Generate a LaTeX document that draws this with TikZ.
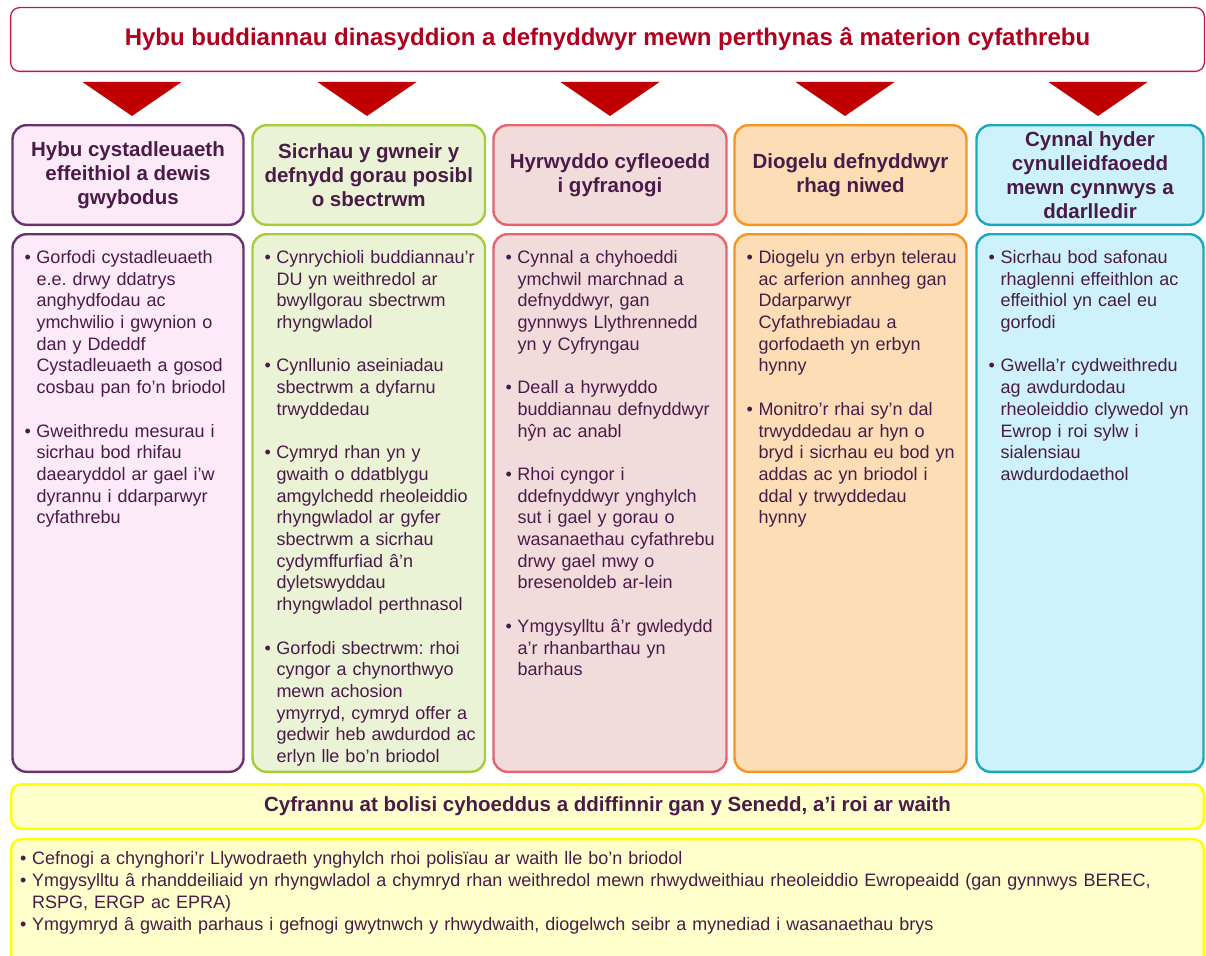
\documentclass[tikz,border=0pt]{standalone}
\usepackage{fontspec}
\setmainfont{Liberation Sans}
\usetikzlibrary{positioning}

\definecolor{bannerred}{HTML}{C8173F}
\definecolor{titlered}{HTML}{B0001E}
\definecolor{arrowred}{HTML}{C00000}
\definecolor{plum}{HTML}{4A1A48}
\definecolor{purpleline}{HTML}{66336A}
\definecolor{purplefill}{HTML}{FDEAF8}
\definecolor{greenline}{HTML}{A5CD39}
\definecolor{greenfill}{HTML}{EBF3D6}
\definecolor{roseline}{HTML}{E8636F}
\definecolor{rosefill}{HTML}{F2DCDB}
\definecolor{orangeline}{HTML}{F7941D}
\definecolor{orangefill}{HTML}{FDDDB5}
\definecolor{tealline}{HTML}{1BA8BD}
\definecolor{tealfill}{HTML}{CDF2FC}
\definecolor{yellowline}{HTML}{FFFF00}
\definecolor{yellowfill}{HTML}{FFFFCC}

\newcommand{\blt}{\par\leftskip=12pt\noindent\llap{\makebox[12pt][l]{\textbullet}}}
\newcommand{\itemgap}{\par\vspace{21.7pt}}

\tikzset{
  banner/.style={draw=bannerred, line width=1.3pt, rounded corners=9pt, fill=white,
    inner sep=0pt, text=titlered, font=\bfseries\fontsize{24}{28}\selectfont},
  headbox/.style={line width=2.4pt, rounded corners=14pt, inner sep=0pt,
    minimum height=99.6pt, align=center, text=plum,
    font=\bfseries\fontsize{20.5}{24}\selectfont},
  bodybox/.style={line width=2.4pt, rounded corners=14pt, inner sep=0pt,
    minimum height=537.6pt},
  bodytext/.style={anchor=north west, inner sep=0pt, text width=226pt, align=left,
    text=plum, font=\fontsize{18}{21.7}\selectfont},
  policy/.style={draw=yellowline, fill=yellowfill, line width=2.4pt,
    rounded corners=10pt, inner sep=0pt, minimum width=1192.6pt},
  downtri/.style={fill=arrowred}
}

\begin{document}
\frenchspacing
\begin{tikzpicture}[x=1pt,y=-1pt]
  \useasboundingbox (0,0) rectangle (1206,955);

  \node[banner, minimum width=1193.8pt, minimum height=63.8pt] (banner) at (607.5,39.5)
    {Hybu buddiannau dinasyddion a defnyddwyr mewn perthynas â materion cyfathrebu};

  % column headings
  \node[headbox, draw=purpleline, fill=purplefill, minimum width=231pt] (head1) at (128,175)
    {Hybu cystadleuaeth\\effeithiol a dewis\\gwybodus};
  \node[headbox, draw=greenline, fill=greenfill, minimum width=232.5pt] (head2) at (368.75,175)
    {Sicrhau y gwneir y\\defnydd gorau posibl\\o sbectrwm};
  \node[headbox, draw=roseline, fill=rosefill, minimum width=233pt] (head3) at (610,175)
    {Hyrwyddo cyfleoedd\\i gyfranogi};
  \node[headbox, draw=orangeline, fill=orangefill, minimum width=232pt] (head4) at (850.5,175)
    {Diogelu defnyddwyr\\rhag niwed};
  \node[headbox, draw=tealline, fill=tealfill, minimum width=227pt] (head5) at (1090,175)
    {Cynnal hyder\\cynulleidfaoedd\\mewn cynnwys a\\ddarlledir};

  % arrows from the banner
  \fill[downtri] ([xshift=4pt,yshift=8pt]head1.north) -- ++(-49.5,-34) -- ++(99,0) -- cycle;
  \fill[downtri] ([xshift=-1.75pt,yshift=8pt]head2.north) -- ++(-49.5,-34) -- ++(99,0) -- cycle;
  \fill[downtri] ([yshift=8pt]head3.north) -- ++(-49.5,-34) -- ++(99,0) -- cycle;
  \fill[downtri] ([xshift=-5.5pt,yshift=8pt]head4.north) -- ++(-49.5,-34) -- ++(99,0) -- cycle;
  \fill[downtri] ([xshift=8pt,yshift=8pt]head5.north) -- ++(-49.5,-34) -- ++(99,0) -- cycle;

  % column bodies
  \node[bodybox, draw=purpleline, fill=purplefill, minimum width=231pt] (body1) at (128,503) {};
  \node[bodybox, draw=greenline, fill=greenfill, minimum width=232.5pt] (body2) at (368.75,503) {};
  \node[bodybox, draw=roseline, fill=rosefill, minimum width=233pt] (body3) at (610,503) {};
  \node[bodybox, draw=orangeline, fill=orangefill, minimum width=232pt] (body4) at (850.5,503) {};
  \node[bodybox, draw=tealline, fill=tealfill, minimum width=227pt] (body5) at (1090,503) {};

  \node[bodytext] (list1) at ([xshift=13pt,yshift=-8.5pt]body1.north west) {%
    \blt Gorfodi cystadleuaeth\newline e.e. drwy ddatrys\newline anghydfodau ac\newline
      ymchwilio i gwynion o\newline dan y Ddeddf\newline Cystadleuaeth a gosod\newline
      cosbau pan fo'n briodol
    \itemgap
    \blt Gweithredu mesurau i\newline sicrhau bod rhifau\newline daearyddol ar gael i'w\newline
      dyrannu i ddarparwyr\newline cyfathrebu\par};
  \node[bodytext] (list2) at ([xshift=13pt,yshift=-8.5pt]body2.north west) {%
    \blt Cynrychioli buddiannau'r\newline DU yn weithredol ar\newline bwyllgorau sbectrwm\newline
      rhyngwladol
    \itemgap
    \blt Cynllunio aseiniadau\newline sbectrwm a dyfarnu\newline trwyddedau
    \itemgap
    \blt Cymryd rhan yn y\newline gwaith o ddatblygu\newline amgylchedd rheoleiddio\newline
      rhyngwladol ar gyfer\newline sbectrwm a sicrhau\newline cydymffurfiad â'n\newline
      dyletswyddau\newline rhyngwladol perthnasol
    \itemgap
    \blt Gorfodi sbectrwm: rhoi\newline cyngor a chynorthwyo\newline mewn achosion\newline
      ymyrryd, cymryd offer a\newline gedwir heb awdurdod ac\newline erlyn lle bo'n briodol\par};
  \node[bodytext] (list3) at ([xshift=13pt,yshift=-8.5pt]body3.north west) {%
    \blt Cynnal a chyhoeddi\newline ymchwil marchnad a\newline defnyddwyr, gan\newline
      gynnwys Llythrennedd\newline yn y Cyfryngau
    \itemgap
    \blt Deall a hyrwyddo\newline buddiannau defnyddwyr\newline hŷn ac anabl
    \itemgap
    \blt Rhoi cyngor i\newline ddefnyddwyr ynghylch\newline sut i gael y gorau o\newline
      wasanaethau cyfathrebu\newline drwy gael mwy o\newline bresenoldeb ar-lein
    \itemgap
    \blt Ymgysylltu â'r gwledydd\newline a'r rhanbarthau yn\newline barhaus\par};
  \node[bodytext] (list4) at ([xshift=13pt,yshift=-8.5pt]body4.north west) {%
    \blt Diogelu yn erbyn telerau\newline ac arferion annheg gan\newline Ddarparwyr\newline
      Cyfathrebiadau a\newline gorfodaeth yn erbyn\newline hynny
    \itemgap
    \blt Monitro'r rhai sy'n dal\newline trwyddedau ar hyn o\newline bryd i sicrhau eu bod yn\newline
      addas ac yn briodol i\newline ddal y trwyddedau\newline hynny\par};
  \node[bodytext] (list5) at ([xshift=13pt,yshift=-8.5pt]body5.north west) {%
    \blt Sicrhau bod safonau\newline rhaglenni effeithlon ac\newline effeithiol yn cael eu\newline
      gorfodi
    \itemgap
    \blt Gwella'r cydweithredu\newline ag awdurdodau\newline rheoleiddio clywedol yn\newline
      Ewrop i roi sylw i\newline sialensiau\newline awdurdodaethol\par};

  % policy strip
  \node[policy, minimum height=44.6pt, text=plum, font=\bfseries\fontsize{20.5}{24}\selectfont]
    (policyhead) at (607.5,806.5)
    {Cyfrannu at bolisi cyhoeddus a ddiffinnir gan y Senedd, a'i roi ar waith};
  \node[policy, minimum height=130.8pt] (policybody) at (607.5,904.6) {};
  \node[bodytext, text width=1180pt] (policylist) at ([xshift=10pt,yshift=-5pt]policybody.north west) {%
    \blt Cefnogi a chynghori'r Llywodraeth ynghylch rhoi polisïau ar waith lle bo'n briodol
    \blt Ymgysylltu â rhanddeiliaid yn rhyngwladol a chymryd rhan weithredol mewn rhwydweithiau
      rheoleiddio Ewropeaidd (gan gynnwys BEREC,\newline RSPG, ERGP ac EPRA)
    \blt Ymgymryd â gwaith parhaus i gefnogi gwytnwch y rhwydwaith, diogelwch seibr a mynediad
      i wasanaethau brys\par};
\end{tikzpicture}
\end{document}
